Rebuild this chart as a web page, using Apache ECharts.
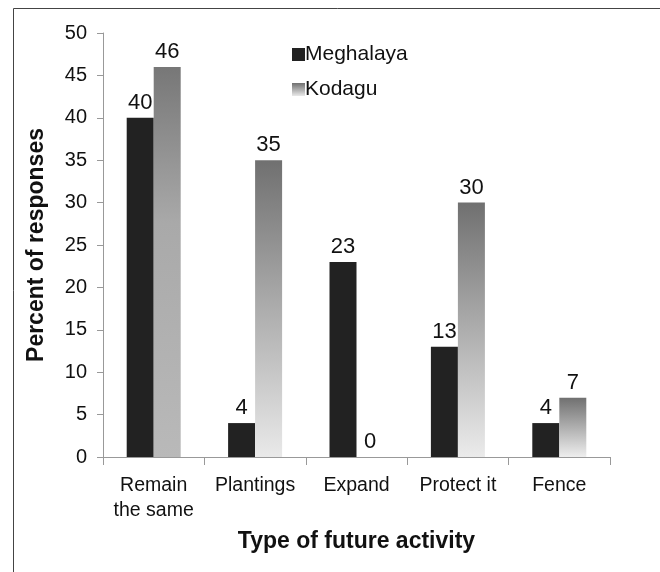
<!DOCTYPE html>
<html>
<head>
<meta charset="utf-8">
<script src="https://cdn.jsdelivr.net/npm/echarts@6/dist/echarts.min.js"></script>
<style>
  html, body { margin: 0; padding: 0; background: #fff; }
  #chart { width: 660px; height: 572px; }
</style>
</head>
<body>
<div id="chart"></div>
<script>
// Future activity planned for sacred groves, by region
const categories = ['Remain\nthe same', 'Plantings', 'Expand', 'Protect it', 'Fence'];
const meghalaya = [40, 4, 23, 13, 4];
const kodagu = [46, 35, 0, 30, 7];
const yTicks = { min: 0, max: 50, interval: 5 };

const font = '"Liberation Sans", Arial, sans-serif';

// Grey shading for the Kodagu bars (dark at the top, light at the base)
function shade(stops) {
  return new echarts.graphic.LinearGradient(0, 0, 0, 1,
    stops.map(([offset, color]) => ({ offset, color })));
}
const kodaguShades = [
  shade([[0, '#777777'], [0.4, '#a9a9a9'], [1, '#b9b9b9']]),
  shade([[0, '#707070'], [1, '#e9e9e9']]),
  shade([[0, '#707070'], [1, '#e9e9e9']]),
  shade([[0, '#707070'], [1, '#ebebeb']]),
  shade([[0, '#707070'], [1, '#eeeeee']])
];

const labelStyle = { show: true, position: 'top', distance: 4, fontSize: 22, color: '#111', fontFamily: font };

const chart = echarts.init(document.getElementById('chart'), null, { renderer: 'canvas' });

chart.setOption({
  backgroundColor: '#ffffff',
  animation: false,
  textStyle: { fontFamily: font },
  graphic: [{
    type: 'rect',
    shape: { x: 13.5, y: 8.5, width: 700, height: 600 },
    style: { fill: 'none', stroke: '#444', lineWidth: 1 },
    silent: true
  }],
  legend: {
    orient: 'vertical',
    left: 287,
    top: 39,
    itemWidth: 13,
    itemHeight: 13,
    itemGap: 14,
    icon: 'rect',
    textStyle: { fontSize: 21, color: '#111', fontFamily: font, padding: [0, 0, 0, -5] },
    data: [
      { name: 'Meghalaya', itemStyle: { color: '#222222' } },
      { name: 'Kodagu', itemStyle: { color: shade([[0, '#707070'], [1, '#e9e9e9']]) } }
    ]
  },
  grid: { left: 103, right: 50, top: 33, bottom: 115, containLabel: false },
  xAxis: {
    type: 'category',
    data: categories,
    name: 'Type of future activity',
    nameLocation: 'middle',
    nameGap: 73,
    nameTextStyle: { fontSize: 23, fontWeight: 'bold', color: '#111', fontFamily: font },
    axisLine: { lineStyle: { color: '#999', width: 1 } },
    axisTick: { show: true, length: 8, lineStyle: { color: '#999' } },
    axisLabel: { interval: 0, fontSize: 19.5, color: '#111', margin: 16, lineHeight: 25, fontFamily: font },
    splitLine: { show: false }
  },
  yAxis: {
    type: 'value',
    min: yTicks.min,
    max: yTicks.max,
    interval: yTicks.interval,
    name: 'Percent of responses',
    nameLocation: 'middle',
    nameGap: 55,
    nameTextStyle: { fontSize: 23, fontWeight: 'bold', color: '#111', fontFamily: font },
    axisLine: { show: true, lineStyle: { color: '#999', width: 1 } },
    axisTick: { show: true, length: 6, lineStyle: { color: '#999' } },
    axisLabel: { fontSize: 20, color: '#111', margin: 16, fontFamily: font },
    splitLine: { show: false }
  },
  series: [
    {
      name: 'Meghalaya',
      type: 'bar',
      data: meghalaya,
      barWidth: 27,
      barGap: '0%',
      itemStyle: { color: '#222222' },
      label: labelStyle
    },
    {
      name: 'Kodagu',
      type: 'bar',
      data: kodagu.map((v, i) => ({ value: v, itemStyle: { color: kodaguShades[i] } })),
      barWidth: 27,
      barGap: '0%',
      label: labelStyle
    }
  ]
});
</script>
</body>
</html>
